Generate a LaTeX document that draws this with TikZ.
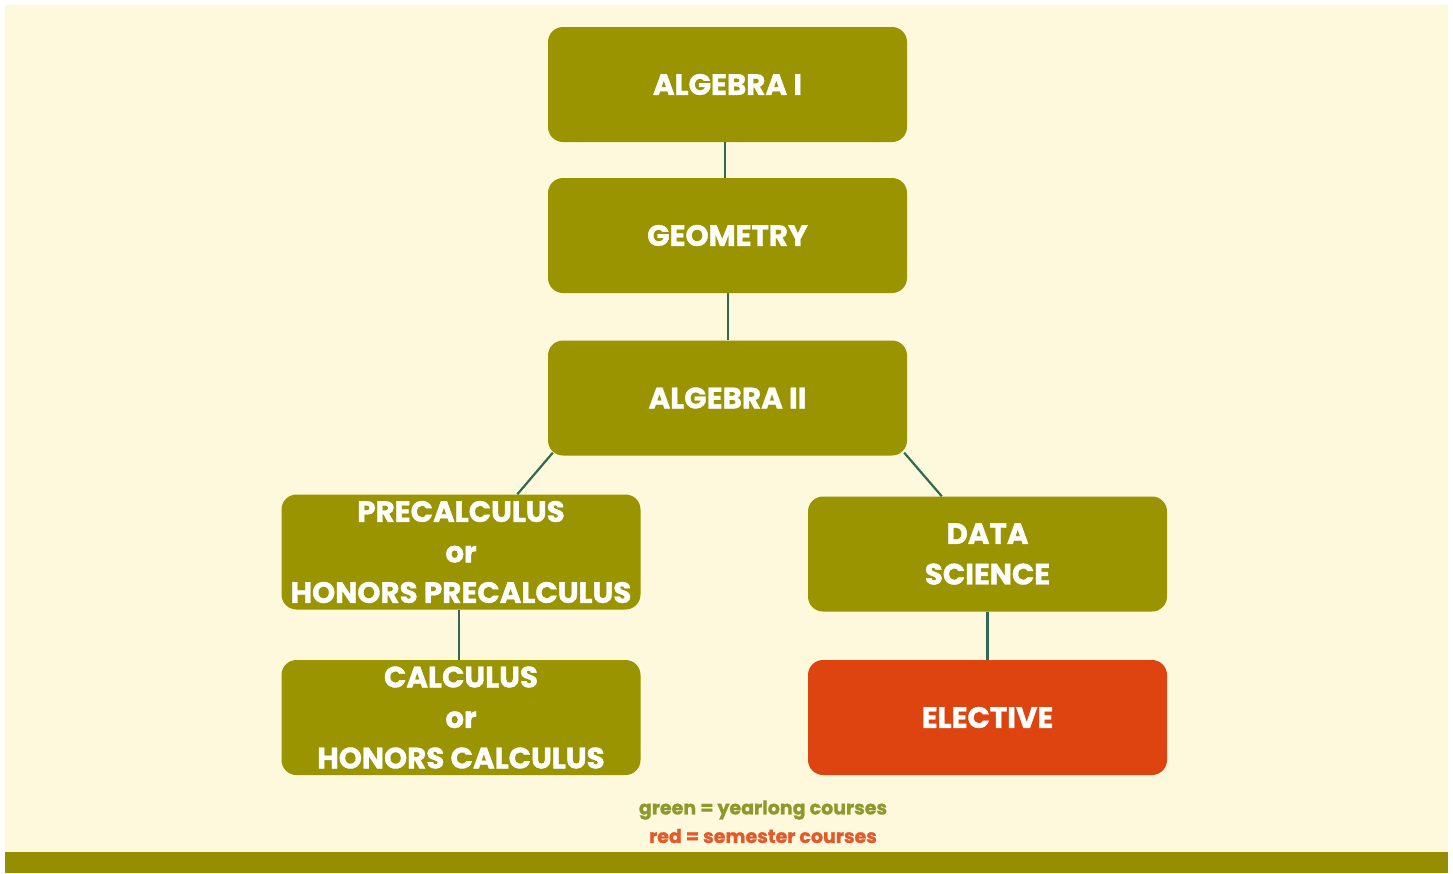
\documentclass[tikz,border=0pt]{standalone}
\usepackage{fontspec}
\setmainfont{Poppins}[BoldFeatures={FakeBold=1.2}]
\definecolor{cream}{HTML}{FEF8DC}
\definecolor{olive}{HTML}{999400}
\definecolor{oliveband}{HTML}{958F00}
\definecolor{brick}{HTML}{DD4410}
\definecolor{linkgreen}{HTML}{2F6B4F}
\definecolor{legendgreen}{HTML}{8C9A2C}
\definecolor{legendred}{HTML}{E05A2C}
\tikzset{
  course/.style={fill=olive, rounded corners=15pt, minimum width=359pt, minimum height=115pt,
    text=white, font=\bfseries\fontsize{29.4}{40.5}\selectfont, align=center, inner sep=0pt},
  semester/.style={course, fill=brick},
  link/.style={draw=linkgreen, line width=2.2pt},
  legend/.style={font=\bfseries\fontsize{19}{26}\selectfont, inner sep=0pt}
}
\begin{document}
\begin{tikzpicture}[x=1pt,y=-1pt]
  % page with white margins, cream panel and olive band at the foot
  \useasboundingbox (0,0) rectangle (1453,873);
  \fill[white] (0,0) rectangle (1453,873);
  \fill[cream] (5,5) rectangle (1448,852);
  \fill[oliveband] (5,852) rectangle (1448,873);

  % course boxes
  \node[course] (alg1) at (727.5,84.5) {ALGEBRA I};
  \node[course] (geo) at (727.5,235.5) {GEOMETRY};
  \node[course] (alg2) at (727.5,398) {ALGEBRA II};
  \node[course] (precalc) at (461,552) {PRECALCULUS\\or\\HONORS PRECALCULUS};
  \node[course] (calc) at (461,717.5) {CALCULUS\\or\\HONORS CALCULUS};
  \node[course] (data) at (987.5,554) {DATA\\SCIENCE};
  \node[semester] (elective) at (987.5,717.5) {ELECTIVE};

  % prerequisite links
  \draw[link] (alg1.south -| 725,0) -- (geo.north -| 725,0);
  \draw[link] (geo.south -| 728,0) -- (alg2.north -| 728,0);
  \draw[link] ([xshift=5pt,yshift=3pt]alg2.south west) -- ([xshift=236pt]precalc.north west);
  \draw[link] ([xshift=-3pt,yshift=3pt]alg2.south east) -- ([xshift=134pt]data.north west);
  \draw[link] (precalc.south -| 459,0) -- (calc.north -| 459,0);
  \draw[link] (data) -- (elective);

  % legend
  \node[legend, text=legendgreen] (leg1) at (763,810) {green = yearlong courses};
  \node[legend, text=legendred] (leg2) at (763,836) {red = semester courses};
\end{tikzpicture}
\end{document}
